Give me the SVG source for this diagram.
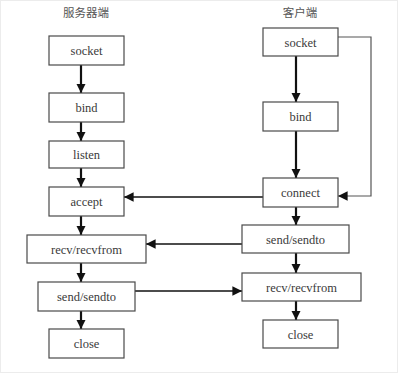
<svg xmlns="http://www.w3.org/2000/svg" width="398" height="373" viewBox="0 0 398 373">
  <style>
    .box rect { fill: #fff; stroke: #4a4a4a; stroke-width: 1.2; }
    .box text { font-family: "Liberation Serif", "Times New Roman", serif; font-size: 12.5px; fill: #3a3a3a; text-anchor: middle; }
    .title { font-family: "Noto Sans CJK SC", "Noto Sans", sans-serif; font-size: 11.5px; fill: #555; text-anchor: middle; }
    .flow { stroke: #111; stroke-width: 2.2; fill: none; }
    .msg { stroke: #111; stroke-width: 1.6; fill: none; }
    .thin { stroke: #555; stroke-width: 1.2; fill: none; }
  </style>
  <defs>
    <marker id="ah" viewBox="0 0 10 10" refX="10" refY="5" markerWidth="4.2" markerHeight="4.2" orient="auto" markerUnits="strokeWidth">
      <path d="M0,0 L10,5 L0,10 z" fill="#111"/>
    </marker>
    <marker id="ahs" viewBox="0 0 10 10" refX="10" refY="5" markerWidth="6" markerHeight="6" orient="auto" markerUnits="strokeWidth">
      <path d="M0,0 L10,5 L0,10 z" fill="#111"/>
    </marker>
    <marker id="aht" viewBox="0 0 10 10" refX="10" refY="5" markerWidth="8" markerHeight="8" orient="auto" markerUnits="strokeWidth">
      <path d="M0,0 L10,5 L0,10 z" fill="#111"/>
    </marker>
  </defs>

  <rect x="0.5" y="0.5" width="397" height="372" fill="#fff" stroke="#ececec"/>

  <text class="title" x="86" y="17">服务器端</text>
  <text class="title" x="300" y="17">客户端</text>

  <!-- connectors -->
  <g id="connectors">
    <!-- server column -->
    <line class="flow" x1="81" y1="65" x2="81" y2="93" marker-end="url(#ah)"/>
    <line class="flow" x1="81" y1="122" x2="81" y2="141" marker-end="url(#ah)"/>
    <line class="flow" x1="81" y1="168" x2="81" y2="187" marker-end="url(#ah)"/>
    <line class="flow" x1="81" y1="216" x2="81" y2="235" marker-end="url(#ah)"/>
    <line class="flow" x1="81" y1="263" x2="81" y2="282" marker-end="url(#ah)"/>
    <line class="flow" x1="81" y1="311" x2="81" y2="329" marker-end="url(#ah)"/>
    <!-- client column -->
    <line class="flow" x1="296" y1="56" x2="296" y2="102" marker-end="url(#ah)"/>
    <line class="flow" x1="296" y1="131" x2="296" y2="178" marker-end="url(#ah)"/>
    <line class="flow" x1="296" y1="207" x2="296" y2="225" marker-end="url(#ah)"/>
    <line class="flow" x1="296" y1="253" x2="296" y2="273" marker-end="url(#ah)"/>
    <line class="flow" x1="296" y1="301" x2="296" y2="320" marker-end="url(#ah)"/>
    <!-- client socket loop to connect -->
    <polyline class="thin" points="338,37 371,37 371,196 338,196" marker-end="url(#aht)"/>
    <!-- cross-column messages -->
    <line class="msg" x1="263" y1="197" x2="124" y2="197" marker-end="url(#ahs)"/>
    <line class="msg" x1="242" y1="244" x2="146" y2="244" marker-end="url(#ahs)"/>
    <line class="msg" x1="135" y1="291" x2="242" y2="291" marker-end="url(#ahs)"/>
  </g>

  <!-- server nodes -->
  <g id="s-socket" class="box"><rect x="49" y="36" width="75" height="29"/><text x="86.5" y="55">socket</text></g>
  <g id="s-bind" class="box"><rect x="49" y="93" width="75" height="29"/><text x="86.5" y="112">bind</text></g>
  <g id="s-listen" class="box"><rect x="49" y="141" width="75" height="27"/><text x="86.5" y="159">listen</text></g>
  <g id="s-accept" class="box"><rect x="49" y="187" width="75" height="29"/><text x="86.5" y="205.5">accept</text></g>
  <g id="s-recv" class="box"><rect x="27" y="235" width="119" height="28"/><text x="86.5" y="253.5">recv/recvfrom</text></g>
  <g id="s-send" class="box"><rect x="38" y="282" width="97" height="29"/><text x="86.5" y="300.5">send/sendto</text></g>
  <g id="s-close" class="box"><rect x="49" y="329" width="75" height="29"/><text x="86.5" y="347.5">close</text></g>

  <!-- client nodes -->
  <g id="c-socket" class="box"><rect x="263" y="28" width="75" height="28"/><text x="300.5" y="46.5">socket</text></g>
  <g id="c-bind" class="box"><rect x="263" y="102" width="75" height="29"/><text x="300.5" y="120.5">bind</text></g>
  <g id="c-connect" class="box"><rect x="263" y="178" width="75" height="29"/><text x="300.5" y="196.5">connect</text></g>
  <g id="c-send" class="box"><rect x="242" y="225" width="107" height="28"/><text x="295.5" y="243.5">send/sendto</text></g>
  <g id="c-recv" class="box"><rect x="242" y="273" width="119" height="28"/><text x="301.5" y="291.5">recv/recvfrom</text></g>
  <g id="c-close" class="box"><rect x="263" y="320" width="75" height="28"/><text x="300.5" y="338.5">close</text></g>
</svg>
